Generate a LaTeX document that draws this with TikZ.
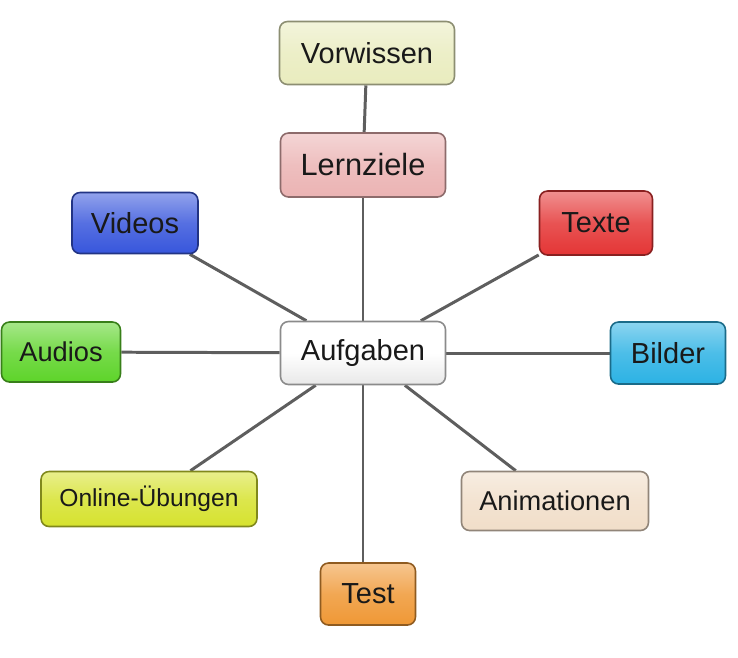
\documentclass[tikz,border=0pt]{standalone}
\usepackage{fontspec}
\setmainfont{Liberation Sans}
\usetikzlibrary{positioning,backgrounds}

\definecolor{cVor}{HTML}{E9ECBE}
\definecolor{cLern}{HTML}{EBB3B3}
\definecolor{cVid}{HTML}{3856DC}
\definecolor{cTex}{HTML}{E43535}
\definecolor{cAuf}{HTML}{E8E8E8}
\definecolor{cAud}{HTML}{5ED42A}
\definecolor{cBil}{HTML}{2CB2E4}
\definecolor{cOnl}{HTML}{D6E22E}
\definecolor{cAni}{HTML}{F1DEC9}
\definecolor{cTst}{HTML}{EF9835}
\definecolor{cLine}{HTML}{5E5E5E}

\begin{document}
\begin{tikzpicture}[x=0.02cm,y=-0.02cm,
  bubble/.style={draw=#1!60!black, line width=0.9pt, rounded corners=0.16cm,
    top color=#1!55!white, bottom color=#1, middle color=#1!85!white, inner sep=0pt,
    text=black!90, font=\fontsize{16.5}{18}\selectfont},
  link/.style={cLine, line width=1.7pt}]
\useasboundingbox (0,0) rectangle (738,657);
\node[bubble=cAuf, minimum width=3.3cm, minimum height=1.26cm, top color=white, middle color=white] (auf) at (363,353) {Aufgaben};
\node[bubble=cLern, minimum width=3.3cm, minimum height=1.28cm, font=\fontsize{17.5}{19}\selectfont] (lern) at (363,165) {Lernziele};
\node[bubble=cVor, minimum width=3.5cm, minimum height=1.26cm] (vor) at (367,53) {Vorwissen};
\node[bubble=cVid, minimum width=2.52cm, minimum height=1.22cm] (vid) at (135,223) {Videos};
\node[bubble=cTex, minimum width=2.26cm, minimum height=1.28cm] (tex) at (596,223) {Texte};
\node[bubble=cAud, minimum width=2.38cm, minimum height=1.2cm, font=\fontsize{15.5}{17}\selectfont] (aud) at (61,352) {Audios};
\node[bubble=cBil, minimum width=2.3cm, minimum height=1.24cm] (bil) at (668,353) {Bilder};
\node[bubble=cOnl, minimum width=4.32cm, minimum height=1.1cm, font=\fontsize{14}{16}\selectfont] (onl) at (149,499) {Online-Übungen};
\node[bubble=cAni, minimum width=3.74cm, minimum height=1.18cm, font=\fontsize{15.5}{17}\selectfont] (ani) at (555,501) {Animationen};
\node[bubble=cTst, minimum width=1.9cm, minimum height=1.24cm] (tst) at (368,594) {Test};
\begin{scope}[on background layer]
\draw[link] (vor) -- (lern);
\foreach \n in {lern,vid,tex,aud,bil,onl,ani}
  \draw[link] (auf) -- (\n);
\draw[link] (auf.south) -- (tst.north -| auf.south);
\end{scope}
\end{tikzpicture}
\end{document}
